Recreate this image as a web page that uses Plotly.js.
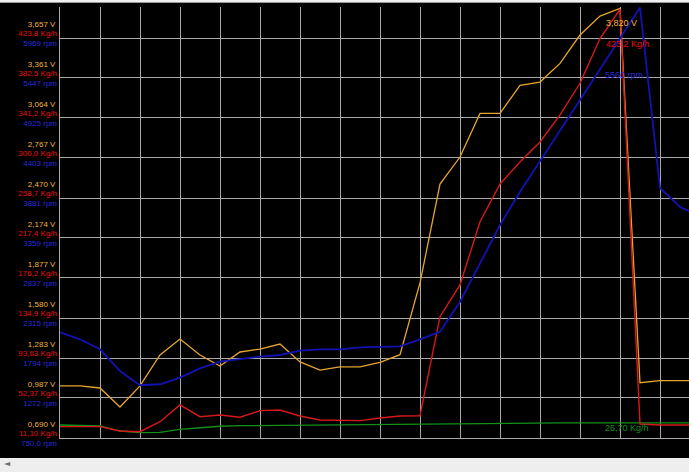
<!DOCTYPE html>
<html>
<head>
<meta charset="utf-8">
<script src="https://cdn.plot.ly/plotly-3.0.1.min.js"></script>
<style>
  html, body { margin: 0; padding: 0; background: #000; }
  #chart { width: 689px; height: 472px; }
</style>
</head>
<body>
<div id="chart"></div>
<script>
// ---- Data (one sample every 20 px) ----
const volts   = [1.076,1.076,1.061,0.920,1.076,1.306,1.424,1.306,1.224,1.328,1.350,1.387,1.254,1.194,1.217,1.217,1.251,1.308,1.840,2.574,2.774,3.098,3.098,3.306,3.330,3.469,3.679,3.820,3.877,1.100,1.116,1.116,1.116];
const airMass = [22.8,22.8,22.8,18.3,17.6,27.9,45.2,33.1,34.8,32.5,39.3,40.0,33.8,29.7,29.2,29.0,31.7,33.8,34.1,136.3,169.0,234.3,273.2,295.9,316.5,344.4,377.1,423.2,453.7,25.5,24.5,24.5,24.5];
const rpm     = [2129,2038,1907,1624,1438,1451,1537,1659,1746,1781,1811,1833,1889,1907,1907,1933,1941,1946,2038,2137,2528,3029,3529,3964,4358,4769,5160,5560,5969,6367,4012,3764,3646];
const airMass2= [24.5,24.2,23.5,18.3,16.6,17.0,20.1,21.7,23.2,23.8,24.0,24.2,24.2,24.3,24.5,24.7,24.9,25.1,25.3,25.75,26.3,26.5,26.6,26.6,26.6,26.7,26.7,26.70,26.7,26.7,26.7,26.7,26.7];
const sample  = volts.map((_, i) => i);

// Axis tick values (as printed on the left scale)
const voltTicks = [0.690,0.987,1.283,1.580,1.877,2.174,2.470,2.767,3.064,3.361,3.657];
const massTicks = [11.10,52.37,93.63,134.9,176.2,217.4,258.7,300.0,341.2,382.5,423.8];
const rpmTicks  = [750.0,1272,1794,2315,2837,3359,3881,4403,4925,5447,5969];

// cursor sample where the readouts are shown
const cursor = 27;

// ---- styling ----
const C_V = '#e6a52e', C_VL = '#f0b43c';
const C_M = '#d81818', C_ML = '#e81010';
const C_R = '#1212b4', C_RL = '#2a2ad8';
const C_G = '#14901a';
const GRID = '#a8a8a8';
const FONT = 'Liberation Sans, Arial, sans-serif';

function fmt(v) {
  const s = Math.abs(v) < 1 ? v.toFixed(3) : v.toPrecision(4);
  return s.replace('.', ',');
}
function rangeOf(t) {
  const step = (t[t.length - 1] - t[0]) / (t.length - 1);
  return [t[0], t[t.length - 1] + step * 31 / 40];
}

const traces = [
  {x: sample, y: airMass2, yaxis: 'y2', mode: 'lines', line: {color: C_G, width: 1.3}, hoverinfo: 'skip'},
  {x: sample, y: airMass,  yaxis: 'y2', mode: 'lines', line: {color: C_M, width: 1.4}, hoverinfo: 'skip'},
  {x: sample, y: rpm,      yaxis: 'y3', mode: 'lines', line: {color: C_R, width: 1.8}, hoverinfo: 'skip'},
  {x: sample, y: volts,    yaxis: 'y',  mode: 'lines', line: {color: C_V, width: 1.3}, hoverinfo: 'skip'}
];

const baseY = {
  fixedrange: true, ticks: '', zeroline: false, showgrid: false, showline: false,
  tickfont: {family: FONT, size: 8}
};

const layout = {
  width: 689, height: 472,
  margin: {l: 60, r: 0, t: 7, b: 34, pad: 0},
  paper_bgcolor: '#000', plot_bgcolor: '#000',
  showlegend: false,
  xaxis: {
    range: [0, 31.45], tickvals: sample.filter(i => i % 2 === 0 && i <= 30),
    showticklabels: false, ticks: '', showgrid: true, gridcolor: GRID, gridwidth: 1,
    zeroline: false, showline: true, linecolor: GRID, linewidth: 1, fixedrange: true
  },
  yaxis: Object.assign({}, baseY, {
    range: rangeOf(voltTicks), tickvals: voltTicks,
    ticktext: voltTicks.map(v => fmt(v) + ' V'),
    tickfont: {family: FONT, size: 8, color: C_VL},
    showgrid: true, gridcolor: GRID, gridwidth: 1,
    showline: true, linecolor: GRID, linewidth: 1,
    ticklabelshift: -14, ticklabelstandoff: 2
  }),
  yaxis2: Object.assign({}, baseY, {
    overlaying: 'y', side: 'left', anchor: 'x',
    range: rangeOf(massTicks), tickvals: massTicks,
    ticktext: massTicks.map(v => fmt(v) + ' Kg/h'),
    tickfont: {family: FONT, size: 8, color: C_ML},
    ticklabelshift: -5, ticklabelstandoff: 2
  }),
  yaxis3: Object.assign({}, baseY, {
    overlaying: 'y', side: 'left', anchor: 'x',
    range: rangeOf(rpmTicks), tickvals: rpmTicks,
    ticktext: rpmTicks.map(v => fmt(v) + ' rpm'),
    tickfont: {family: FONT, size: 8, color: C_RL},
    ticklabelshift: 5, ticklabelstandoff: 2
  }),
  annotations: [
    {x: sample[cursor], y: volts[cursor], yref: 'y', xanchor: 'left', yanchor: 'middle', xshift: 4, yshift: -7,
     text: fmt(volts[cursor]) + ' V', showarrow: false, font: {family: FONT, size: 9, color: C_VL}},
    {x: sample[cursor], y: airMass[cursor], yref: 'y2', xanchor: 'left', yanchor: 'middle', xshift: 4, yshift: -5.5,
     text: fmt(airMass[cursor]) + ' Kg/h', showarrow: false, font: {family: FONT, size: 9, color: C_ML}},
    {x: sample[cursor], y: rpm[cursor], yref: 'y3', xanchor: 'left', yanchor: 'middle', xshift: 3, yshift: -5.6,
     text: fmt(rpm[cursor]) + ' rpm', showarrow: false, font: {family: FONT, size: 9, color: C_RL}},
    {x: sample[cursor], y: airMass2[cursor], yref: 'y2', xanchor: 'left', yanchor: 'middle', xshift: 3, yshift: -5,
     text: fmt(airMass2[cursor]) + ' Kg/h', showarrow: false, font: {family: FONT, size: 9, color: C_G}},
    {xref: 'paper', yref: 'paper', x: -0.0827, y: -0.0603, xanchor: 'center', yanchor: 'middle',
     text: '◄', showarrow: false, font: {family: 'DejaVu Sans', size: 8, color: '#707070'}}
  ],
  shapes: [
    {type: 'rect', xref: 'paper', yref: 'paper', x0: -0.0954, x1: 1, y0: -0.0789, y1: -0.0464,
     fillcolor: '#eeeeee', line: {width: 0}, layer: 'below'},
    {type: 'rect', xref: 'paper', yref: 'paper', x0: -0.0954, x1: 1, y0: 1.0116, y1: 1.0162,
     fillcolor: '#f0f0f0', line: {width: 0}},
    {type: 'line', xref: 'paper', yref: 'paper', x0: -0.0954, x1: 1, y0: 1.0104, y1: 1.0104,
     line: {color: '#9a9a9a', width: 1}}
  ]
};

Plotly.newPlot('chart', traces, layout, {staticPlot: true, displayModeBar: false});
</script>
</body>
</html>
